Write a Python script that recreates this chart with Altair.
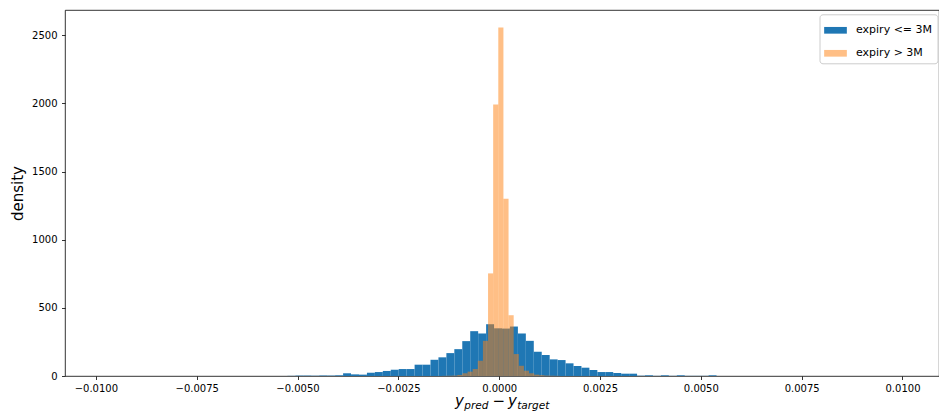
import altair as alt
import pandas as pd

# ---------------- data ----------------
blue_label = "expiry <= 3M"
orange_label = "expiry > 3M"

# blue histogram: 100 bins of equal width, first non-empty bin index 23
blue_start = -0.00978
blue_width = 0.000197
blue_first_bin = 23
blue_values = [1, 3, 3, 2, 4, 3, 5, 20, 12, 10, 24, 29, 37, 46, 51, 51, 83, 83,
               119, 137, 168, 197, 256, 329, 312, 380, 350, 348, 363, 312, 258,
               178, 154, 122, 117, 93, 73, 61, 44, 29, 29, 22, 17, 17, 2, 5, 1,
               5, 1, 5, 1, 1, 1, 5]

# orange histogram: narrower bins
orange_start = -0.000276
orange_width = 0.0001271
orange_first_bin = -9
orange_values = [1, 2, 3, 8, 20, 32, 51, 112, 258, 753, 1993, 2558, 1300, 446,
                 161, 75, 39, 20, 10, 6, 3, 2, 1]

x_ticks = [-0.01, -0.0075, -0.005, -0.0025, 0.0, 0.0025, 0.005, 0.0075, 0.01]
y_ticks = [0, 500, 1000, 1500, 2000, 2500]
x_domain = [-0.010765, 0.010905]
y_domain = [0, 2686]

rows = []
for i, v in enumerate(blue_values):
    k = blue_first_bin + i
    lo = blue_start + k * blue_width
    rows.append({"series": blue_label, "lo": lo, "hi": lo + blue_width, "density": v})
for i, v in enumerate(orange_values):
    j = orange_first_bin + i
    lo = orange_start + j * orange_width
    rows.append({"series": orange_label, "lo": lo, "hi": lo + orange_width, "density": v})
df = pd.DataFrame(rows)

FONT = "DejaVu Sans"

bars = alt.Chart(df).mark_rect(strokeWidth=0).encode(
    x=alt.X("lo:Q", scale=alt.Scale(domain=x_domain, nice=False, zero=False),
            axis=alt.Axis(values=x_ticks, format=".4f", title=None, grid=False,
                          domain=False, tickSize=3.5, tickWidth=0.8, tickColor="black",
                          labelFontSize=10, labelColor="black", labelPadding=3.5,
                          labelFont=FONT)),
    x2="hi:Q",
    y=alt.Y("density:Q", scale=alt.Scale(domain=y_domain, nice=False),
            axis=alt.Axis(values=y_ticks, format="d", title="density", grid=False,
                          domain=False, tickSize=3.5, tickWidth=0.8, tickColor="black",
                          labelFontSize=10, labelColor="black", labelPadding=4.5,
                          labelFont=FONT, titleFont=FONT, titleFontSize=15,
                          titleFontWeight="normal", titleColor="black",
                          titlePadding=6)),
    y2=alt.datum(0),
    color=alt.Color("series:N",
                    scale=alt.Scale(domain=[blue_label, orange_label],
                                    range=["#1f77b4", "rgba(255,127,14,0.5)"]),
                    legend=alt.Legend(title=None, orient="none", legendX=754.5, legendY=4.3,
                                      symbolType="M-1,-0.295L1,-0.295L1,0.295L-1,0.295Z",
                                      symbolSize=515, symbolStrokeWidth=0,
                                      labelFont=FONT, labelFontSize=11, labelColor="black",
                                      labelOffset=9, padding=4.5, rowPadding=6,
                                      fillColor="rgba(255,255,255,0.8)",
                                      strokeColor="#cccccc", cornerRadius=3)),
)


def piece(txt, x, y, size, italic=True):
    return alt.Chart(pd.DataFrame({"t": [txt]})).mark_text(
        align="left", baseline="alphabetic", font=FONT, fontSize=size,
        fontStyle="italic" if italic else "normal", color="black"
    ).encode(text="t:N", x=alt.value(x), y=alt.value(y))


title = (piece("y", 390, 396, 15) + piece("pred", 399.3, 398.5, 10.5)
         + piece("\u2212", 427.5, 396, 15, italic=False)
         + piece("y", 443, 396, 15) + piece("target", 452.2, 398.5, 10.5))

chart = alt.layer(bars, title).properties(
    width=874, height=366,
    autosize=alt.AutoSizeParams(type="none"),
    padding={"left": 57, "top": 2, "right": 0, "bottom": 35},
    background="white",
).configure_view(stroke="black", strokeWidth=0.8)

chart.save("out.html", embed_options={"renderer": "svg", "actions": False})
